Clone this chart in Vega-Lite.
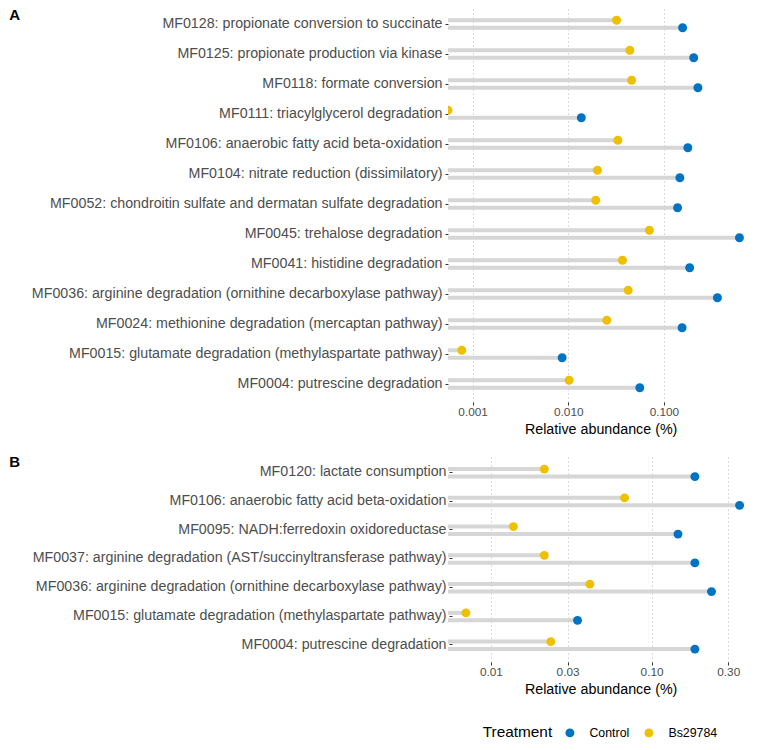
{
  "$schema": "https://vega.github.io/schema/vega-lite/v6.json",
  "padding": {"left": 8, "top": 6, "right": 4, "bottom": 4},
  "background": "white",
  "spacing": 18,
  "config": {
    "font": "Liberation Sans",
    "view": {"stroke": null},
    "axisX": {
      "domain": false, "grid": true, "gridColor": "#b3b3b3", "gridDash": [1, 3], "gridWidth": 1,
      "tickSize": 3, "tickColor": "#333333", "labelFontSize": 11.8, "labelColor": "#4d4d4d",
      "labelPadding": 1.5, "titleFontSize": 14.3, "titleFontWeight": "normal", "titleColor": "#000000", "titlePadding": 4
    },
    "axisY": {
      "domain": false, "grid": false, "tickSize": 3, "tickColor": "#333333",
      "labelFontSize": 14.25, "labelColor": "#4d4d4d", "labelPadding": 3, "labelLimit": 600,
      "titleAngle": 0, "titleAlign": "left", "titleBaseline": "alphabetic", "titleFontSize": 15,
      "titleFontWeight": "bold", "titleColor": "#000000", "titleX": -439.3
    }
  },
  "vconcat": [
    {
      "width": 305.3,
      "height": 396,
      "data": {"values": [
        {"pathway": "MF0128: propionate conversion to succinate", "Treatment": "Control", "value": 0.157},
        {"pathway": "MF0128: propionate conversion to succinate", "Treatment": "Bs29784", "value": 0.032},
        {"pathway": "MF0125: propionate production via kinase", "Treatment": "Control", "value": 0.205},
        {"pathway": "MF0125: propionate production via kinase", "Treatment": "Bs29784", "value": 0.044},
        {"pathway": "MF0118: formate conversion", "Treatment": "Control", "value": 0.227},
        {"pathway": "MF0118: formate conversion", "Treatment": "Bs29784", "value": 0.046},
        {"pathway": "MF0111: triacylglycerol degradation", "Treatment": "Control", "value": 0.0137},
        {"pathway": "MF0111: triacylglycerol degradation", "Treatment": "Bs29784", "value": 0.000553},
        {"pathway": "MF0106: anaerobic fatty acid beta-oxidation", "Treatment": "Control", "value": 0.178},
        {"pathway": "MF0106: anaerobic fatty acid beta-oxidation", "Treatment": "Bs29784", "value": 0.033},
        {"pathway": "MF0104: nitrate reduction (dissimilatory)", "Treatment": "Control", "value": 0.147},
        {"pathway": "MF0104: nitrate reduction (dissimilatory)", "Treatment": "Bs29784", "value": 0.0202},
        {"pathway": "MF0052: chondroitin sulfate and dermatan sulfate degradation", "Treatment": "Control", "value": 0.139},
        {"pathway": "MF0052: chondroitin sulfate and dermatan sulfate degradation", "Treatment": "Bs29784", "value": 0.0194},
        {"pathway": "MF0045: trehalose degradation", "Treatment": "Control", "value": 0.617},
        {"pathway": "MF0045: trehalose degradation", "Treatment": "Bs29784", "value": 0.0706},
        {"pathway": "MF0041: histidine degradation", "Treatment": "Control", "value": 0.186},
        {"pathway": "MF0041: histidine degradation", "Treatment": "Bs29784", "value": 0.0369},
        {"pathway": "MF0036: arginine degradation (ornithine decarboxylase pathway)", "Treatment": "Control", "value": 0.363},
        {"pathway": "MF0036: arginine degradation (ornithine decarboxylase pathway)", "Treatment": "Bs29784", "value": 0.0423},
        {"pathway": "MF0024: methionine degradation (mercaptan pathway)", "Treatment": "Control", "value": 0.155},
        {"pathway": "MF0024: methionine degradation (mercaptan pathway)", "Treatment": "Bs29784", "value": 0.0253},
        {"pathway": "MF0015: glutamate degradation (methylaspartate pathway)", "Treatment": "Control", "value": 0.00863},
        {"pathway": "MF0015: glutamate degradation (methylaspartate pathway)", "Treatment": "Bs29784", "value": 0.00077},
        {"pathway": "MF0004: putrescine degradation", "Treatment": "Control", "value": 0.056},
        {"pathway": "MF0004: putrescine degradation", "Treatment": "Bs29784", "value": 0.0102}
      ]},
      "encoding": {
        "y": {"field": "pathway", "type": "nominal", "sort": "descending", "scale": {"paddingInner": 0, "paddingOuter": 0.1},
              "axis": {"title": "A", "titleY": 13.2}},
        "yOffset": {"field": "Treatment", "type": "nominal", "scale": {"domain": ["Bs29784", "Control"], "paddingInner": 0, "paddingOuter": 1.05}},
        "x": {"field": "value", "type": "quantitative", "stack": null, "scale": {"type": "log", "domain": [0.000553, 0.861], "nice": false},
              "axis": {"values": [0.001, 0.01, 0.1], "format": ".3f", "title": "Relative abundance (%)"}}
      },
      "layer": [
        {"mark": {"type": "bar", "color": "#d6d6d6", "height": 4}},
        {"mark": {"type": "circle", "size": 80, "opacity": 1, "clip": true},
         "encoding": {"color": {"field": "Treatment", "type": "nominal",
           "scale": {"domain": ["Control", "Bs29784"], "range": ["#0073C2", "#EFC000"]},
           "legend": {"orient": "none", "direction": "horizontal", "legendX": 34.7, "legendY": 720.5, "padding": 0, "titleOrient": "left",
             "title": "Treatment", "titleFontSize": 15.4, "titleFontWeight": "normal", "titleColor": "#000000",
             "titleAnchor": "middle", "titleBaseline": "middle",
             "labelFontSize": 12.4, "labelColor": "#000000", "symbolType": "circle", "symbolSize": 80,
             "labelOffset": 13.3, "columnPadding": 13, "titlePadding": 11, "symbolStrokeWidth": 0}}}}
      ]
    },
    {
      "width": 305.3,
      "height": 207,
      "data": {"values": [
        {"pathway": "MF0120: lactate consumption", "Treatment": "Control", "value": 0.186},
        {"pathway": "MF0120: lactate consumption", "Treatment": "Bs29784", "value": 0.0215},
        {"pathway": "MF0106: anaerobic fatty acid beta-oxidation", "Treatment": "Control", "value": 0.353},
        {"pathway": "MF0106: anaerobic fatty acid beta-oxidation", "Treatment": "Bs29784", "value": 0.0679},
        {"pathway": "MF0095: NADH:ferredoxin oxidoreductase", "Treatment": "Control", "value": 0.146},
        {"pathway": "MF0095: NADH:ferredoxin oxidoreductase", "Treatment": "Bs29784", "value": 0.0138},
        {"pathway": "MF0037: arginine degradation (AST/succinyltransferase pathway)", "Treatment": "Control", "value": 0.186},
        {"pathway": "MF0037: arginine degradation (AST/succinyltransferase pathway)", "Treatment": "Bs29784", "value": 0.0215},
        {"pathway": "MF0036: arginine degradation (ornithine decarboxylase pathway)", "Treatment": "Control", "value": 0.236},
        {"pathway": "MF0036: arginine degradation (ornithine decarboxylase pathway)", "Treatment": "Bs29784", "value": 0.0413},
        {"pathway": "MF0015: glutamate degradation (methylaspartate pathway)", "Treatment": "Control", "value": 0.0346},
        {"pathway": "MF0015: glutamate degradation (methylaspartate pathway)", "Treatment": "Bs29784", "value": 0.00699},
        {"pathway": "MF0004: putrescine degradation", "Treatment": "Control", "value": 0.186},
        {"pathway": "MF0004: putrescine degradation", "Treatment": "Bs29784", "value": 0.0236}
      ]},
      "encoding": {
        "y": {"field": "pathway", "type": "nominal", "sort": "descending", "scale": {"paddingInner": 0, "paddingOuter": 0.1},
              "axis": {"title": "B", "titleY": 12, "offset": -4, "titleX": -443.3}},
        "yOffset": {"field": "Treatment", "type": "nominal", "scale": {"domain": ["Bs29784", "Control"], "paddingInner": 0, "paddingOuter": 1.05}},
        "x": {"field": "value", "type": "quantitative", "stack": null, "scale": {"type": "log", "domain": [0.005408, 0.4295], "nice": false},
              "axis": {"values": [0.01, 0.03, 0.1, 0.3], "format": ".2f", "title": "Relative abundance (%)"}}
      },
      "layer": [
        {"mark": {"type": "bar", "color": "#d6d6d6", "height": 4}},
        {"mark": {"type": "circle", "size": 80, "opacity": 1, "clip": true},
         "encoding": {"color": {"field": "Treatment", "type": "nominal",
           "scale": {"domain": ["Control", "Bs29784"], "range": ["#0073C2", "#EFC000"]},
           "legend": {"orient": "none", "direction": "horizontal", "legendX": 34.7, "legendY": 720.5, "padding": 0, "titleOrient": "left",
             "title": "Treatment", "titleFontSize": 15.4, "titleFontWeight": "normal", "titleColor": "#000000",
             "titleAnchor": "middle", "titleBaseline": "middle",
             "labelFontSize": 12.4, "labelColor": "#000000", "symbolType": "circle", "symbolSize": 80,
             "labelOffset": 13.3, "columnPadding": 13, "titlePadding": 11, "symbolStrokeWidth": 0}}}}
      ]
    }
  ]
}
